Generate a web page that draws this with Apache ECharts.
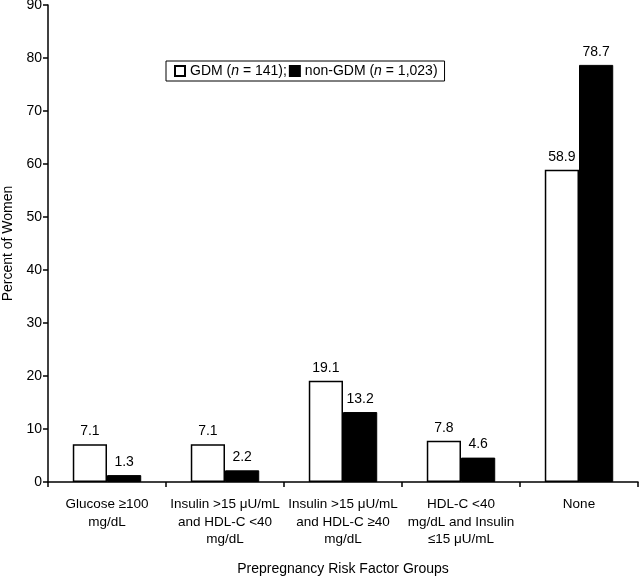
<!DOCTYPE html>
<html>
<head>
<meta charset="utf-8">
<script src="https://cdn.jsdelivr.net/npm/echarts@6/dist/echarts.min.js"></script>
<style>html,body{margin:0;padding:0;background:#fff}#c{width:640px;height:579px}</style>
</head>
<body>
<div id="c"></div>
<script>
var categories = [
  "Glucose ≥100\nmg/dL",
  "Insulin >15 μU/mL\nand HDL-C <40\nmg/dL",
  "Insulin >15 μU/mL\nand HDL-C ≥40\nmg/dL",
  "HDL-C <40\nmg/dL and Insulin\n≤15 μU/mL",
  "None"
];
var gdm = [7.1, 7.1, 19.1, 7.8, 58.9];
var nonGdm = [1.3, 2.2, 13.2, 4.6, 78.7];
var yTicks = [0, 10, 20, 30, 40, 50, 60, 70, 80, 90];

var FONT = "Liberation Sans, Arial, sans-serif";
var chart = echarts.init(document.getElementById('c'), null, {renderer: 'canvas'});
chart.setOption({
  animation: false,
  textStyle: {fontFamily: FONT, color: '#000'},
  grid: {left: 48, right: 2, top: 5, bottom: 97, containLabel: false, outerBoundsMode: 'none'},
  legend: {
    left: 166, top: 61,
    orient: 'horizontal',
    borderColor: '#000', borderWidth: 1,
    padding: [3, 7, 3, 8],
    itemGap: 2,
    itemWidth: 10, itemHeight: 10,
    icon: 'rect',
    data: ['GDM', 'non-GDM'],
    formatter: function (name) {
      if (name === 'GDM') return '{t|GDM (}{i|n}{t| = 141);}';
      return '{t|non-GDM (}{i|n}{t| = 1,023)}';
    },
    textStyle: {
      fontFamily: FONT, fontSize: 14, color: '#000',
      rich: {
        t: {fontFamily: FONT, fontSize: 14, color: '#000'},
        i: {fontFamily: FONT, fontSize: 14, color: '#000', fontStyle: 'italic'}
      }
    }
  },
  xAxis: {
    type: 'category',
    data: categories,
    boundaryGap: true,
    name: 'Prepregnancy Risk Factor Groups',
    nameLocation: 'middle',
    nameGap: 80,
    nameTextStyle: {fontFamily: FONT, fontSize: 14, color: '#000'},
    axisLine: {lineStyle: {color: '#000', width: 1.5}},
    axisTick: {show: true, length: 5, lineStyle: {color: '#000', width: 1.5}},
    axisLabel: {interval: 0, fontFamily: FONT, fontSize: 13.5, color: '#000', lineHeight: 17.5, margin: 14, verticalAlign: 'top'},
    splitLine: {show: false}
  },
  yAxis: {
    type: 'value',
    min: 0, max: 90, interval: 10,
    name: 'Percent of Women',
    nameLocation: 'middle',
    nameGap: 29,
    nameTextStyle: {fontFamily: FONT, fontSize: 14, color: '#000'},
    axisLine: {show: true, lineStyle: {color: '#000', width: 1.5}},
    axisTick: {show: true, length: 5, lineStyle: {color: '#000', width: 1.5}},
    axisLabel: {fontFamily: FONT, fontSize: 14, color: '#000', margin: 6,
      formatter: function (v) { return yTicks.indexOf(v) >= 0 ? String(v) : ''; }},
    splitLine: {show: false}
  },
  series: [
    {
      name: 'GDM', type: 'bar', data: gdm,
      barGap: '0%', barCategoryGap: '42%',
      itemStyle: {color: '#fff', borderColor: '#000', borderWidth: 1.5},
      label: {show: true, position: 'top', distance: 6, fontFamily: FONT, fontSize: 14, color: '#000',
        formatter: function (p) { return p.value.toFixed(1); }}
    },
    {
      name: 'non-GDM', type: 'bar', data: nonGdm,
      barGap: '0%', barCategoryGap: '42%',
      itemStyle: {color: '#000', borderColor: '#000', borderWidth: 1},
      label: {show: true, position: 'top', distance: 6, fontFamily: FONT, fontSize: 14, color: '#000',
        formatter: function (p) { return p.value.toFixed(1); }}
    }
  ]
});
</script>
</body>
</html>
